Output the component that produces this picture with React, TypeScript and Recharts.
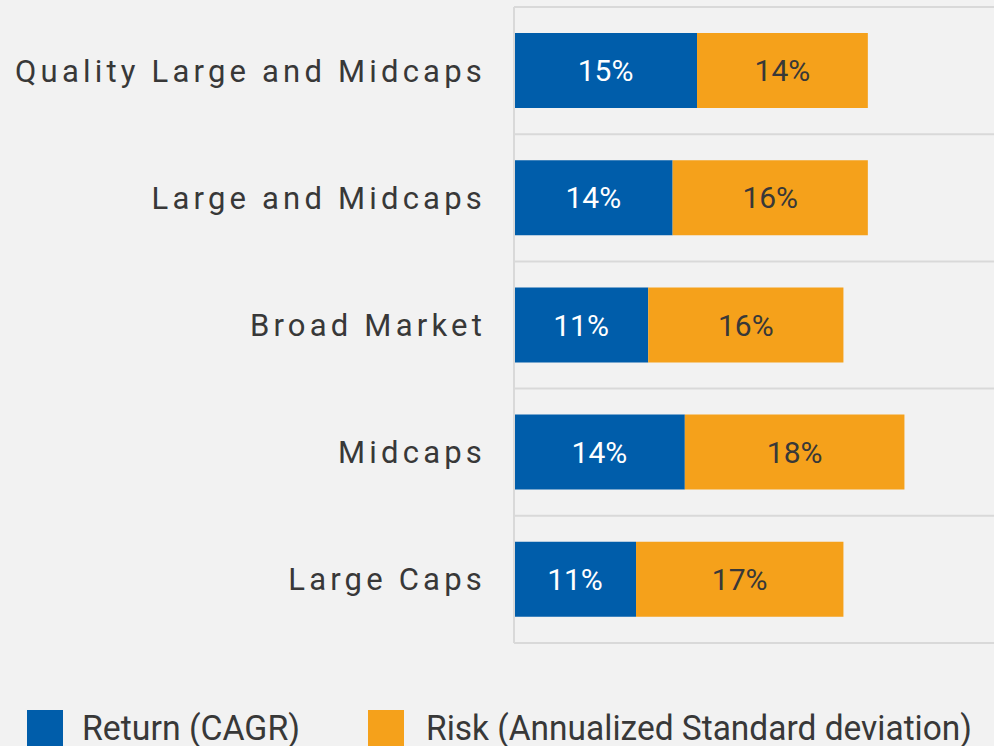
import React from 'react';
import {
  BarChart,
  Bar,
  XAxis,
  YAxis,
  CartesianGrid,
  Legend,
  LabelList,
} from 'recharts';

const categories = [
  'Quality Large and Midcaps',
  'Large and Midcaps',
  'Broad Market',
  'Midcaps',
  'Large Caps',
];
const returnValues = [15, 13, 11, 14, 10];
const riskValues = [14, 16, 16, 18, 17];
const returnLabels = ['15%', '14%', '11%', '14%', '11%'];
const riskLabels = ['14%', '16%', '16%', '18%', '17%'];
const seriesNames = ['Return (CAGR)', 'Risk (Annualized Standard deviation)'];

const BLUE = '#005daa';
const ORANGE = '#f5a11b';
const TEXT = '#383838';
const GRID = '#d9d9d9';
const FONT = 'Roboto, "Noto Sans", sans-serif';

const data = categories.map((name, i) => ({
  name,
  ret: returnValues[i],
  risk: riskValues[i],
  retLabel: returnLabels[i],
  riskLabel: riskLabels[i],
}));

const CategoryTick = (props: any) => {
  const { x, y, payload } = props;
  return (
    <text
      x={x + 4}
      y={y}
      dy={11}
      textAnchor="end"
      fill={TEXT}
      fontSize={31}
      letterSpacing={4.2}
      fontFamily={FONT}
    >
      {payload.value}
    </text>
  );
};

const LegendContent = () => (
  <svg width={994} height={103} style={{ display: 'block' }}>
    <rect x={27} y={67} width={36} height={36} fill={BLUE} />
    <text
      x={82}
      y={97}
      fontSize={35}
      fill={TEXT}
      fontFamily={FONT}
      textLength={218}
      lengthAdjust="spacingAndGlyphs"
    >
      {seriesNames[0]}
    </text>
    <rect x={368} y={67} width={36} height={36} fill={ORANGE} />
    <text
      x={426}
      y={97}
      fontSize={35}
      fill={TEXT}
      fontFamily={FONT}
      textLength={546}
      lengthAdjust="spacingAndGlyphs"
    >
      {seriesNames[1]}
    </text>
  </svg>
);

// grid lines sit between the categories, not through them
const bandEdges = ({ offset }: any) =>
  Array.from(
    { length: categories.length + 1 },
    (_, i) => offset.top + (i * offset.height) / categories.length
  );

const App: React.FC = () => {
  return (
    <div
      style={{
        position: 'absolute',
        left: 0,
        top: 0,
        width: 994,
        height: 746,
        overflow: 'hidden',
        background: '#f2f2f2',
      }}
    >
      <BarChart
        width={994}
        height={746}
        data={data}
        layout="vertical"
        margin={{ top: 7, right: 0, left: 0, bottom: 0 }}
      >
        <CartesianGrid
          vertical={false}
          stroke={GRID}
          strokeWidth={2}
          horizontalCoordinatesGenerator={bandEdges}
        />
        <XAxis type="number" domain={[0, 39.34]} hide />
        <YAxis
          type="category"
          dataKey="name"
          width={514}
          tickLine={false}
          tickSize={0}
          tickMargin={32}
          axisLine={{ stroke: GRID, strokeWidth: 2 }}
          tick={<CategoryTick />}
        />
        <Legend
          verticalAlign="bottom"
          content={<LegendContent />}
          wrapperStyle={{ left: 0, bottom: 0, width: 994, height: 103 }}
        />
        <Bar dataKey="ret" stackId="a" fill={BLUE} barSize={75} isAnimationActive={false} name={seriesNames[0]}>
          <LabelList dataKey="retLabel" position="center" fill="#ffffff" fontSize={30} fontFamily={FONT} />
        </Bar>
        <Bar dataKey="risk" stackId="a" fill={ORANGE} barSize={75} isAnimationActive={false} name={seriesNames[1]}>
          <LabelList dataKey="riskLabel" position="center" fill={TEXT} fontSize={30} fontFamily={FONT} />
        </Bar>
      </BarChart>
    </div>
  );
};

export default App;
